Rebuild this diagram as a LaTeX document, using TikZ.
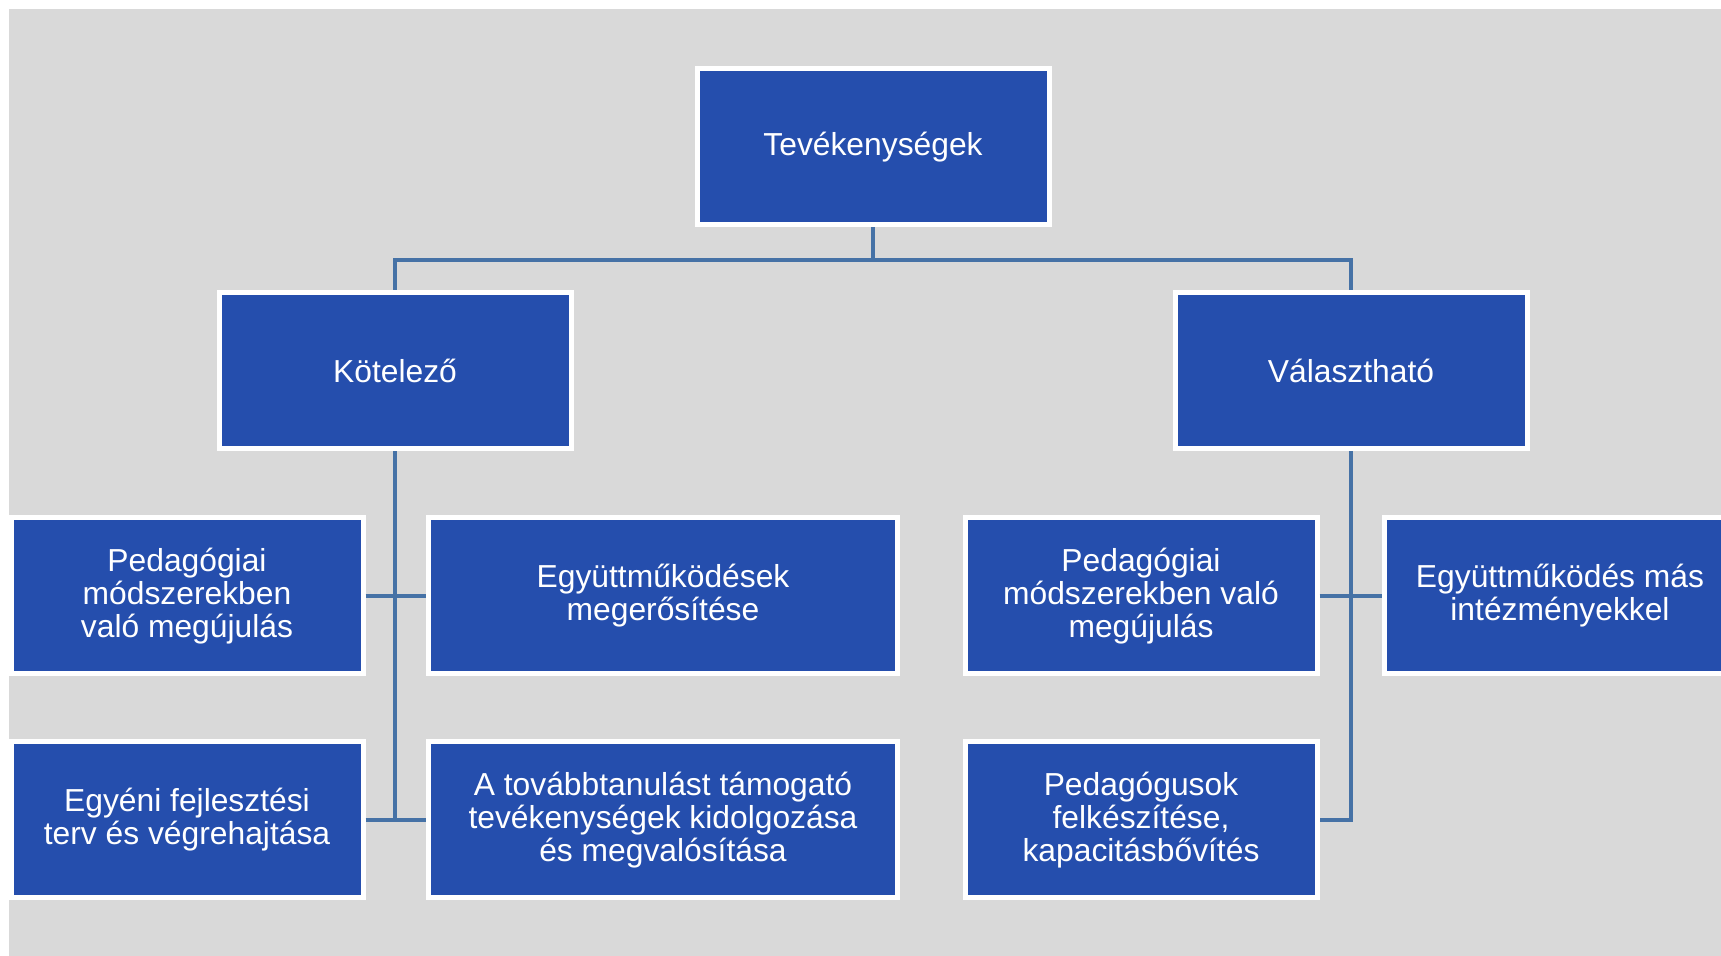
\documentclass[tikz,border=0pt]{standalone}
\usepackage{fontspec}
\setmainfont{Liberation Sans}
\usepackage{tikz}
\definecolor{fond}{HTML}{D9D9D9}
\definecolor{bleu}{HTML}{254EAD}
\definecolor{trait}{HTML}{4672A6}
\tikzstyle{box}=[rectangle,draw=white,line width=2.5pt,fill=bleu,text=white,align=center,minimum width=176pt,minimum height=78pt,font=\fontsize{15.9}{16.5}\selectfont]
\tikzstyle{wide}=[box,minimum width=234.5pt]
\tikzstyle{link}=[draw=trait,line width=2.2pt]

\begin{document}
\begin{tikzpicture}[x=0.5pt,y=-0.5pt]

  \useasboundingbox (0,0) rectangle (1721,956);
  \fill[fond] (9,9) rectangle (1721,956);

  \node[box] (T) at (873,147) {Tevékenységek};
  \node[box] (K) at (395,371) {Kötelező};
  \node[box] (V) at (1351,371) {Választható};

  \node[box] (K1) at (187,596) {Pedagógiai\\módszerekben\\való megújulás};
  \node[wide] (K2) at (663,596) {Együttműködések\\megerősítése};
  \node[box] (K3) at (187,820) {Egyéni fejlesztési\\terv és végrehajtása};
  \node[wide] (K4) at (663,820) {A továbbtanulást támogató\\tevékenységek kidolgozása\\és megvalósítása};

  \node[box] (V1) at (1141,596) {Pedagógiai\\módszerekben való\\megújulás};
  \node[box] (V2) at (1560,596) {Együttműködés más\\intézményekkel};
  \node[box] (V3) at (1141,820) {Pedagógusok\\felkészítése,\\kapacitásbővítés};

  % les liens
  \coordinate (J) at (873,260);
  \draw[link] (T)--(J);
  \draw[link] (J)-|(K); \draw[link] (J)-|(V);
  \draw[link] (K)--(K|-K3);
  \draw[link] (K1)--(K2); \draw[link] (K3)--(K4);
  \draw[link] (V)|-(V3);
  \draw[link] (V1)--(V2);

\end{tikzpicture}
\end{document}
